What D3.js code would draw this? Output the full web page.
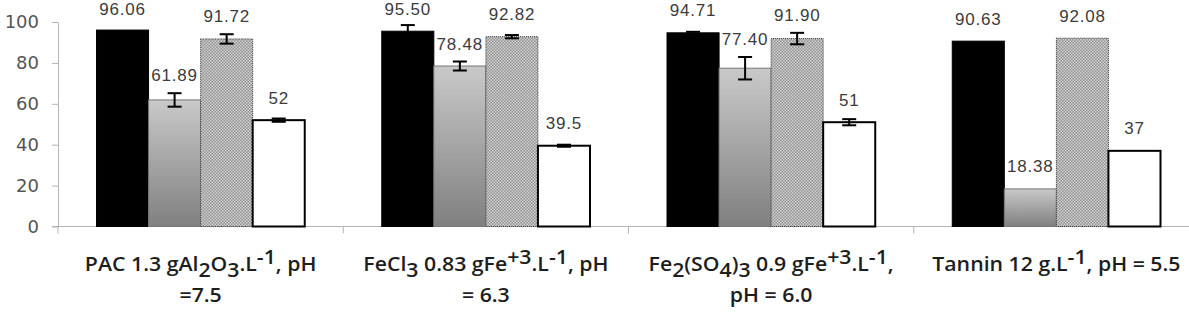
<!DOCTYPE html>
<html>
<head>
<meta charset="utf-8">
<script src="https://cdn.jsdelivr.net/npm/d3@7"></script>
<style>
  body { margin: 0; background: #fff; }
  svg { display: block; }
</style>
</head>
<body>
<svg id="chart" width="1189" height="319"></svg>
<script>
// data
var categories = ["PAC", "FeCl3", "Fe2(SO4)3", "Tannin"];
var series = ["s1", "s2", "s3", "s4"];

var values1 = [96.06, 95.50, 94.71, 90.63];
var values2 = [61.89, 78.48, 77.40, 18.38];
var values3 = [91.72, 92.82, 91.90, 92.08];
var values4 = [52, 39.5, 51, 37];

var errors1 = [0, 3, 0.5, 0];
var errors2 = [3.3, 2.2, 5.5, 0];
var errors3 = [2.3, 0.8, 2.8, 0];
var errors4 = [0.8, 0.5, 1.5, 0];

var labels1 = ["96.06", "95.50", "94.71", "90.63"];
var labels2 = ["61.89", "78.48", "77.40", "18.38"];
var labels3 = ["91.72", "92.82", "91.90", "92.08"];
var labels4 = ["52", "39.5", "51", "37"];

var yTicks = [0, 20, 40, 60, 80, 100];

// category labels: lines of [text, kind] pieces
var catLabels = [
  [[["PAC 1.3 gAl", ""], ["2", "sub"], ["O", ""], ["3", "sub"], [".L", ""], ["-1", "sup"], [", pH", ""]],
   [["=7.5", ""]]],
  [[["FeCl", ""], ["3", "sub"], [" 0.83 gFe", ""], ["+3", "sup"], [".L", ""], ["-1", "sup"], [", pH", ""]],
   [["= 6.3", ""]]],
  [[["Fe", ""], ["2", "sub"], ["(SO", ""], ["4", "sub"], [")", ""], ["3", "sub"], [" 0.9 gFe", ""], ["+3", "sup"], [".L", ""], ["-1", "sup"], [",", ""]],
   [["pH = 6.0", ""]]],
  [[["Tannin 12 g.L", ""], ["-1", "sup"], [", pH = 5.5", ""]]]
];

var allValues = [values1, values2, values3, values4];
var allErrors = [errors1, errors2, errors3, errors4];
var allLabels = [labels1, labels2, labels3, labels4];

var svg = d3.select("#chart");

var x0 = d3.scaleBand()
    .domain(categories)
    .range([58, 1199])
    .paddingInner(0.27)
    .paddingOuter(0.135);

var x1 = d3.scaleBand()
    .domain(series)
    .range([0, x0.bandwidth()]);

var y = d3.scaleLinear()
    .domain([0, 100])
    .range([226.5, 22]);

// patterns and gradient
var defs = svg.append("defs");
var grad = defs.append("linearGradient")
    .attr("id", "grayGrad")
    .attr("x1", 0).attr("y1", 0).attr("x2", 0).attr("y2", 1);
grad.append("stop").attr("offset", "0%").attr("stop-color", "#c9c9c9");
grad.append("stop").attr("offset", "100%").attr("stop-color", "#808080");

var pat = defs.append("pattern")
    .attr("id", "checks")
    .attr("width", 3).attr("height", 3)
    .attr("patternUnits", "userSpaceOnUse");
pat.append("rect").attr("width", 3).attr("height", 3).attr("fill", "#8e8e8e");
pat.append("rect").attr("width", 1.5).attr("height", 1.5).attr("fill", "#d6d6d6");
pat.append("rect").attr("x", 1.5).attr("y", 1.5).attr("width", 1.5).attr("height", 1.5).attr("fill", "#d6d6d6");

// y axis
var yAxis = d3.axisLeft(y)
    .tickValues(yTicks)
    .tickSize(6)
    .tickSizeOuter(0)
    .tickPadding(13);

var yG = svg.append("g")
    .attr("transform", "translate(58,0)")
    .call(yAxis);
yG.select(".domain").attr("stroke", "#b4b4b4");
yG.selectAll(".tick line").attr("stroke", "#b4b4b4");
yG.selectAll(".tick text")
    .attr("fill", "#555")
    .style("font-family", "DejaVu Sans")
    .style("font-size", "18px");

// x axis line and category boundary ticks
svg.append("line")
    .attr("x1", 52).attr("x2", 1189)
    .attr("y1", y(0)).attr("y2", y(0))
    .attr("stroke", "#b4b4b4");

var bounds = categories.map(function(c) { return x0(c) - x0.step() * x0.paddingInner() / 2; });
svg.selectAll(".catTick")
    .data(bounds)
    .enter()
    .append("line")
    .attr("class", "catTick")
    .attr("x1", function(d) { return d; })
    .attr("x2", function(d) { return d; })
    .attr("y1", y(0))
    .attr("y2", y(0) + 7)
    .attr("stroke", "#b4b4b4");

// build bar records
var bars = [];
categories.forEach(function(c, i) {
    series.forEach(function(s, j) {
        bars.push({ cat: c, ser: s, j: j, v: allValues[j][i], e: allErrors[j][i], label: allLabels[j][i] });
    });
});

var fills = ["#000", "url(#grayGrad)", "url(#checks)", "#fff"];

var barG = svg.append("g");
barG.selectAll("rect")
    .data(bars)
    .enter()
    .append("rect")
    .attr("x", function(d) { return x0(d.cat) + x1(d.ser); })
    .attr("y", function(d) { return y(d.v); })
    .attr("width", x1.bandwidth())
    .attr("height", function(d) { return y(0) - y(d.v); })
    .attr("fill", function(d) { return fills[d.j]; })
    .attr("stroke", function(d) { return ["#000", "#777", "#333", "#000"][d.j]; })
    .attr("stroke-width", function(d) { return d.j == 3 ? 2 : 1; })
    .attr("stroke-dasharray", function(d) { return d.j == 2 ? "1,1" : null; });

// error bars
var errBars = bars.filter(function(d) { return d.e > 0; });
var errG = svg.append("g").attr("stroke", "#000").attr("stroke-width", 2);
errBars.forEach(function(d) {
    var cx = x0(d.cat) + x1(d.ser) + x1.bandwidth() / 2;
    errG.append("line")
        .attr("x1", cx).attr("x2", cx)
        .attr("y1", y(d.v - d.e)).attr("y2", y(d.v + d.e));
    [d.v - d.e, d.v + d.e].forEach(function(v) {
        errG.append("line")
            .attr("x1", cx - 7).attr("x2", cx + 7)
            .attr("y1", y(v)).attr("y2", y(v));
    });
});

// value labels: above the bar, pushed up when the error bar is tall
svg.append("g").selectAll("text")
    .data(bars)
    .enter()
    .append("text")
    .attr("x", function(d) { return x0(d.cat) + x1(d.ser) + x1.bandwidth() / 2; })
    .attr("y", function(d) { return Math.max(15, Math.min(y(d.v) - 16.5, y(d.v + d.e) - 12)); })
    .attr("text-anchor", "middle")
    .attr("fill", "#3c3c3c")
    .style("font-family", "Liberation Sans")
    .style("font-size", "17px")
    .style("letter-spacing", "0.8px")
    .text(function(d) { return d.label; });

// category labels
var catG = svg.append("g")
    .style("font-family", "Open Sans")
    .style("font-weight", "600")
    .style("font-size", "19px")
    .attr("fill", "#1e1e1e");

categories.forEach(function(c, i) {
    var cx = x0(c) + x0.bandwidth() / 2;
    catLabels[i].forEach(function(line, k) {
        var t = catG.append("text")
            .attr("transform", "translate(" + cx + "," + (271 + k * 31) + ") scale(1.12,1)")
            .attr("text-anchor", "middle");
        var shift = 0;
        line.forEach(function(p) {
            var want = p[1] == "sub" ? 6 : (p[1] == "sup" ? -7 : 0);
            t.append("tspan")
                .attr("dy", want - shift)
                .text(p[0]);
            shift = want;
        });
    });
});
</script>
</body>
</html>
